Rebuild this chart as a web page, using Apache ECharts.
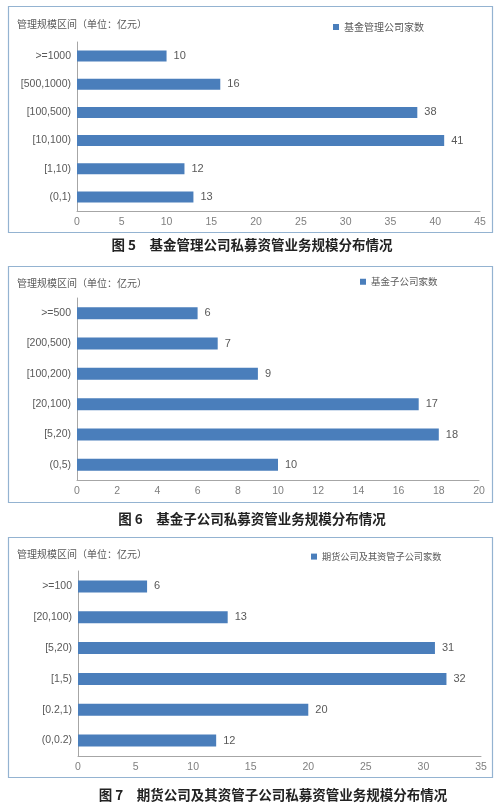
<!DOCTYPE html>
<html>
<head>
<meta charset="utf-8">
<script src="https://cdn.jsdelivr.net/npm/echarts@6/dist/echarts.min.js"></script>
<style>
html,body{margin:0;padding:0;background:#fff;}
#c{width:500px;height:812px;}
</style>
</head>
<body>
<div id="c"></div>
<script>
const cats1 = ['>=1000','[500,1000)','[100,500)','[10,100)','[1,10)','(0,1)'];
const vals1 = [10,16,38,41,12,13];
const cats2 = ['>=500','[200,500)','[100,200)','[20,100)','[5,20)','(0,5)'];
const vals2 = [6,7,9,17,18,10];
const cats3 = ['>=100','[20,100)','[5,20)','[1,5)','[0.2,1)','(0,0.2)'];
const vals3 = [6,13,31,32,20,12];
const xMax = [45,20,35];
const xStep = [5,2,5];
const seriesNames = ['基金管理公司家数','基金子公司家数','期货公司及其资管子公司家数'];
const axisTitle = '管理规模区间（单位：亿元）';
const captions = ['图 5　基金管理公司私募资管业务规模分布情况','图 6　基金子公司私募资管业务规模分布情况','图 7　期货公司及其资管子公司私募资管业务规模分布情况'];

const numFont = "'Liberation Sans',Arial,sans-serif";
const cjkFont = "'Noto Sans CJK SC',sans-serif";
const barColor = '#4a7ebb';
const axisColor = '#a6a6a6';
const labelColor = '#595959';

const layout = [
  {grid:{left:77,right:20,top:42,height:169}, box:[8.5,6.5,484,226], titleY:19, legend:{left:333,top:22}, legFs:10, capY:245, capX:252, bw:11},
  {grid:{left:77,right:21,top:298,height:182}, box:[8.5,266.5,484,236], titleY:278, legend:{left:360,top:277}, legFs:9.5, capY:519, capX:252, bw:12},
  {grid:{left:78,right:19,top:571,height:185}, box:[8.5,537.5,484,240], titleY:549, legend:{left:311,top:552}, legFs:9.2, capY:795, capX:273, bw:12}
];
const cats = [cats1,cats2,cats3];
const vals = [vals1,vals2,vals3];

const option = {
  animation:false,
  backgroundColor:'#fff',
  grid: layout.map(l=>l.grid),
  xAxis: layout.map((l,i)=>({
    type:'value', gridIndex:i, min:0, max:xMax[i], interval:xStep[i],
    splitLine:{show:false},
    axisLine:{show:true,lineStyle:{color:axisColor,width:1}},
    axisTick:{show:false},
    axisLabel:{color:'#7f7f7f',fontSize:10.5,fontFamily:numFont,margin:6}
  })),
  yAxis: layout.map((l,i)=>({
    type:'category', gridIndex:i, data:cats[i], inverse:true,
    axisLine:{show:true,lineStyle:{color:axisColor,width:1}},
    axisTick:{show:false},
    axisLabel:{color:labelColor,fontSize:10.5,fontFamily:numFont,margin:6}
  })),
  legend: layout.map((l,i)=>({
    data:[seriesNames[i]], left:l.legend.left, top:l.legend.top,
    itemWidth:6, itemHeight:6, icon:'rect', padding:0,
    textStyle:{color:labelColor,fontSize:l.legFs,fontFamily:cjkFont}
  })),
  title: layout.map((l,i)=>({
    text:axisTitle, left:17, top:l.titleY, padding:0,
    textStyle:{color:labelColor,fontSize:10,fontWeight:'normal',fontFamily:cjkFont}
  })),
  series: layout.map((l,i)=>({
    type:'bar', name:seriesNames[i], xAxisIndex:i, yAxisIndex:i,
    data:vals[i], barWidth:l.bw,
    itemStyle:{color:barColor},
    label:{show:true,position:'right',distance:7,color:labelColor,fontSize:11,fontFamily:numFont}
  })),
  graphic: [].concat(
    layout.map(l=>({
      type:'rect', silent:true, z:-1,
      shape:{x:l.box[0],y:l.box[1],width:l.box[2],height:l.box[3]},
      style:{fill:'none',stroke:'#94b3d1',lineWidth:1.2}
    })),
    layout.map((l,i)=>({
      type:'text', x:l.capX, y:l.capY, silent:true,
      style:{text:captions[i],fill:'#222',fontSize:13.5,fontWeight:'bold',fontFamily:cjkFont,align:'center',verticalAlign:'middle'}
    }))
  )
};
const chart = echarts.init(document.getElementById('c'));
chart.setOption(option);
</script>
</body>
</html>
